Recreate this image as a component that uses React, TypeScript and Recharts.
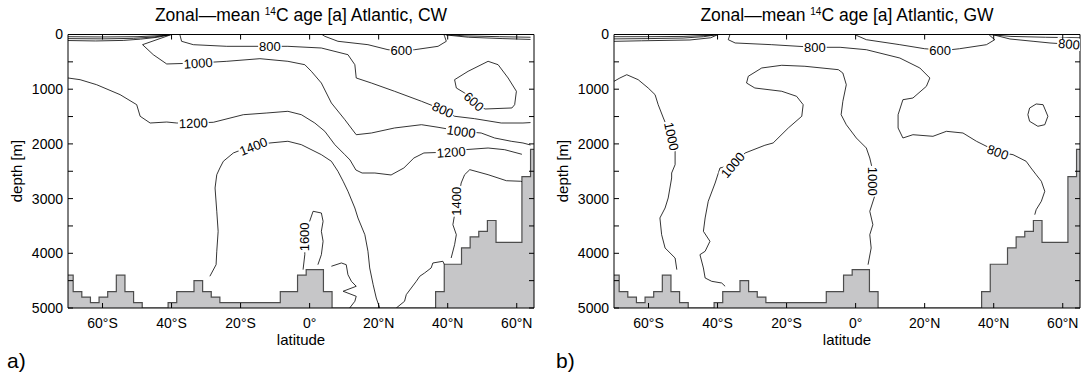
import { ComposedChart, Area, Scatter, XAxis, YAxis, ReferenceArea } from "recharts"

type Pt = [number, number] // [latitude deg, depth m]

const latTicks = [-60, -40, -20, 0, 20, 40, 60]
const depthTicks = [0, 500, 1000, 1500, 2000, 2500, 3000, 3500, 4000, 4500, 5000]

// ocean floor on the model grid, each depth holds until the next latitude
const bottomSteps: Pt[] = [
  [-70, 4400], [-68.5, 4700], [-66, 4800], [-63.5, 4900], [-61, 4800], [-58.5, 4700],
  [-56, 4400], [-53.5, 4700], [-51, 4900], [-48.5, 5000], [-41, 4900], [-38.5, 4700],
  [-33.5, 4500], [-31, 4700], [-28.5, 4800], [-26, 4900], [-8.5, 4700], [-3.5, 4400],
  [-1, 4300], [4, 4700], [6.5, 5000], [36.5, 4700], [39, 4200], [44, 3900], [46.5, 3700],
  [49, 3600], [51.5, 3400], [54, 3800], [61.5, 2600], [64, 2100], [65, 2100],
]

// ---- CW ----
const cwSurfS1: Pt[] = [[-70, 40], [-60, 45], [-50, 40], [-43, 20], [-40, 0]]
const cwSurfS2: Pt[] = [[-70, 75], [-60, 80], [-51, 70], [-45, 45], [-40.5, 5]]
const cwSurfS3: Pt[] = [[-70, 110], [-62, 118], [-54, 108], [-49, 85], [-44, 50], [-41, 10]]
const cwSurfN1: Pt[] = [[39, 0], [45, 25], [55, 40], [64, 50]]
const cwSurfN2: Pt[] = [[39.5, 8], [46, 50], [56, 75], [64, 90]]

const cw600: Pt[] = [
  [3.6, 0], [4.4, 33], [8.2, 124], [16.9, 186], [22.7, 278], [26.6, 296], [30.4, 278],
  [37.2, 216], [39.6, 124], [39.1, 33], [38.9, 0],
]
const cw600North: Pt[] = [
  [42, 826], [45.9, 673], [51.7, 490], [54.6, 552], [57.5, 795], [59.9, 1038], [59.4, 1283],
  [58.6, 1343], [50.8, 1362], [47.6, 1225], [44.9, 1069], [42.5, 978], [42, 826],
]
const cw800: Pt[] = [
  [-37.6, 0], [-37.1, 124], [-33.7, 186], [-24, 216], [-11.5, 216], [-6.3, 216], [3.4, 247],
  [11.1, 369], [13.1, 552], [13.5, 795], [17.9, 887], [24.6, 1038], [32.4, 1221], [38.6, 1375],
  [42, 1495], [47.8, 1539], [55.5, 1618], [61.8, 1618], [64, 1610],
]
const cw1000: Pt[] = [
  [-40, 0], [-48.4, 186], [-45.3, 369], [-41.4, 539], [-32.3, 521], [-24, 490], [-14.4, 442],
  [-6.3, 490], [-1.4, 552], [0.5, 673], [3.4, 887], [6.3, 1252], [10.2, 1557], [13.5, 1832],
  [17.9, 1801], [24.6, 1709], [32.4, 1649], [37.2, 1696], [43.9, 1770], [49.7, 1801],
  [53.6, 1892], [58.4, 1952], [61.8, 1983], [64, 2020],
]
const cw1200: Pt[] = [
  [-70, 795], [-66.5, 826], [-61.7, 918], [-54.9, 1100], [-50.1, 1283], [-49.1, 1495],
  [-46.2, 1618], [-41.4, 1600], [-38.5, 1618], [-33.7, 1618], [-27.9, 1605], [-19.2, 1466],
  [-12.4, 1435], [-6.3, 1404], [-2.4, 1466], [1.5, 1618], [4.4, 1770], [7.3, 2014],
  [10.2, 2197], [11.7, 2294], [13.4, 2477], [15.2, 2532], [18.9, 2532], [23.6, 2568],
  [27.3, 2440], [30.2, 2258], [33.1, 2166], [41, 2148], [44.9, 2106], [51.7, 2075],
  [56.5, 2106], [61.5, 2190],
]
const cw1400: Pt[] = [
  [-28.9, 4420], [-27.1, 4208], [-26.9, 3963], [-26.5, 3598], [-26.9, 3232], [-27.4, 2806],
  [-26.9, 2563], [-26, 2440], [-25, 2318], [-22.1, 2166], [-19.7, 2106], [-16.3, 2044],
  [-11.5, 1983], [-6.3, 1952], [-2.4, 2014], [3.4, 2197], [6.3, 2318], [8.2, 2501],
  [9.7, 2683], [11.1, 2866], [13.1, 3172], [14, 3354], [16, 3660], [16.9, 3963], [17.4, 4268],
  [18.4, 4574], [19.3, 4817], [20.3, 5000],
]
const cw1400North: Pt[] = [
  [41, 4086], [42, 3842], [42.5, 3660], [41.5, 3477], [42, 3294], [42.5, 3049], [43.5, 2866],
  [43.9, 2715], [44.9, 2563], [46.4, 2471], [51.7, 2563], [57, 2673], [61.1, 2683], [61.5, 2690],
]
const cw1400Deep: Pt[] = [
  [25.1, 5000], [27.5, 4877], [28, 4756], [30.9, 4512], [31.9, 4420], [33.3, 4360],
  [35.2, 4268], [35.7, 4177], [38.6, 4146], [39, 4200],
]
const cw1600: Pt[] = [
  [-1.9, 4299], [-1.4, 4025], [-1.4, 3700], [0, 3415], [1, 3232], [3.4, 3263], [3.9, 3415],
  [3.4, 3598], [3.9, 3780], [3.4, 4025], [2.4, 4208],
]
const cw1600East: Pt[] = [
  [6.3, 4237], [9.2, 4177], [10.6, 4208], [11.1, 4391], [12.1, 4512], [13.5, 4603],
  [9.7, 4694], [13.5, 4786], [13.1, 4877], [11.6, 5000],
]

const cwLines = [
  cwSurfS1, cwSurfS2, cwSurfS3, cwSurfN1, cwSurfN2, cw600, cw600North, cw800, cw1000,
  cw1200, cw1400, cw1400North, cw1400Deep, cw1600, cw1600East,
]

// inline labels: level, lat, depth, text rotation
const cwLabels = [
  { level: 800, lat: -11.5, depth: 216, angle: 0 },
  { level: 600, lat: 26.6, depth: 296, angle: 0 },
  { level: 1000, lat: -32.3, depth: 521, angle: -4 },
  { level: 1200, lat: -33.7, depth: 1618, angle: -2 },
  { level: 800, lat: 38.6, depth: 1375, angle: 24 },
  { level: 600, lat: 47.6, depth: 1225, angle: 42 },
  { level: 1000, lat: 43.9, depth: 1770, angle: 8 },
  { level: 1200, lat: 41, depth: 2148, angle: -4 },
  { level: 1400, lat: -16.3, depth: 2044, angle: -22 },
  { level: 1600, lat: -1.4, depth: 3700, angle: -90 },
  { level: 1400, lat: 42.5, depth: 3049, angle: -90 },
]

// ---- GW ----
const gwSurfS1: Pt[] = [[-70, 40], [-60, 40], [-50, 35], [-42, 15], [-40, 0]]
const gwSurfS2: Pt[] = [[-70, 80], [-60, 75], [-50, 65], [-44, 40], [-40, 2]]
const gwSurfS3: Pt[] = [[-70, 125], [-62, 115], [-48, 100], [-42, 60], [-40, 5]]
const gwSurfN1: Pt[] = [[38.5, 0], [45, 35], [55, 50], [65, 60]]

const gw600: Pt[] = [
  [-0.2, 0], [0.2, 15], [3.1, 95], [12.8, 186], [20, 260], [24.5, 282], [28, 275],
  [30.1, 260], [37.9, 186], [40.3, 95], [38.8, 15], [38.8, 0],
]
const gw800North: Pt[] = [[40.1, 9], [44.7, 82], [51.4, 124], [56.3, 155], [61, 174], [65, 180]]
const gw800: Pt[] = [
  [-36.4, 0], [-36.9, 95], [-34.9, 155], [-24.3, 186], [-11.8, 234], [-4.5, 234], [3.1, 278],
  [12.8, 430], [18.6, 612], [21.5, 795], [20.5, 947], [16.6, 1161], [13.7, 1192], [12.3, 1466],
  [12.3, 1709], [13.7, 1892], [16.6, 1832], [22.4, 1861], [26.3, 1770], [31.1, 1801],
  [35, 1952], [41.2, 2148], [45.6, 2197], [49.4, 2318], [50.8, 2440], [52.3, 2563],
  [53.8, 2683], [54.8, 2866], [53.8, 3049], [52.3, 3203], [51.9, 3294],
]
const gw1000West: Pt[] = [
  [-70, 856], [-68.3, 795], [-66.3, 735], [-63, 826], [-60.1, 978], [-58.1, 1100],
  [-57.2, 1283], [-55.7, 1526], [-54.7, 1678], [-53.3, 1861], [-52.3, 2135], [-52.3, 2380],
  [-53.3, 2532], [-53.3, 2623], [-54.3, 2989], [-55.2, 3172], [-56.7, 3354], [-56.2, 3660],
  [-55.2, 3903], [-52.3, 4086], [-51.8, 4299],
]
const gw1000: Pt[] = [
  [-37.8, 4603], [-38.8, 4543], [-41.7, 4512], [-43.6, 4451], [-44.1, 4268], [-45.1, 4025],
  [-43.6, 3963], [-42.2, 3780], [-44.1, 3598], [-43.6, 3354], [-42.7, 3049], [-40.7, 2715],
  [-39.3, 2440], [-35.6, 2386], [-32, 2166], [-26.3, 2025], [-23.9, 1983], [-19.5, 1709],
  [-15.6, 1495], [-15.2, 1283], [-17.1, 1130], [-21.4, 1038], [-29.2, 978], [-31.6, 887],
  [-31.1, 764], [-27.2, 612], [-21.4, 563], [-14.7, 581], [-5, 643], [-3.7, 704], [-2.7, 918],
  [-3.7, 1221], [-4.2, 1466], [-2.7, 1649], [0.2, 1892], [3.1, 2075], [4.1, 2258], [5, 2501],
  [5, 2683], [5.5, 2958], [4.1, 3232], [5, 3477], [4.1, 3660], [4.5, 3903], [3.6, 4208],
]
const gw800Cell: Pt[] = [
  [50.4, 1344], [52.3, 1270], [54.3, 1283], [55.7, 1495], [54.8, 1649], [52.8, 1678],
  [50.4, 1587], [49.9, 1466], [50.4, 1344],
]

const gwLines = [
  gwSurfS1, gwSurfS2, gwSurfS3, gwSurfN1, gw600, gw800North, gw800, gw1000West, gw1000, gw800Cell,
]

const gwLabels = [
  { level: 800, lat: -11.8, depth: 234, angle: 0 },
  { level: 600, lat: 24.5, depth: 282, angle: 0 },
  { level: 1000, lat: -53.3, depth: 1861, angle: 78 },
  { level: 1000, lat: -35.6, depth: 2386, angle: -50 },
  { level: 1000, lat: 5, depth: 2683, angle: 90 },
  { level: 800, lat: 41.2, depth: 2148, angle: 20 },
  { level: 800, lat: 61.8, depth: 172, angle: 5 },
]

// plot box inside each chart svg
const PLOT_LEFT = 68
const PLOT_RIGHT = 534
const PLOT_TOP = 34.5
const PLOT_BOTTOM = 308
const FONT = "'Liberation Sans', Arial, Helvetica, sans-serif"

const toRows = (pts: Pt[]) => pts.map(([lat, depth]) => ({ lat, depth }))

function latText(v: number) {
  if (v === 0) return "0°"
  return `${Math.abs(v)}°${v < 0 ? "S" : "N"}`
}

function LatTick(props: any) {
  const { x, payload } = props
  return (
    <g>
      <line x1={x} x2={x} y1={PLOT_BOTTOM} y2={PLOT_BOTTOM - 5} stroke="#000" />
      <line x1={x} x2={x} y1={PLOT_TOP} y2={PLOT_TOP + 5} stroke="#000" />
      <text x={x} y={328} textAnchor="middle" fontSize={14} fill="#000">
        {latText(payload.value)}
      </text>
    </g>
  )
}

function DepthTick(props: any) {
  const { y, payload } = props
  const v = payload.value
  return (
    <g>
      <line x1={PLOT_LEFT} x2={PLOT_LEFT + 5} y1={y} y2={y} stroke="#000" />
      <line x1={PLOT_RIGHT - 5} x2={PLOT_RIGHT} y1={y} y2={y} stroke="#000" />
      {v % 1000 === 0 && (
        <text x={PLOT_LEFT - 5} y={y} dy="0.35em" textAnchor="end" fontSize={14} fill="#000">
          {v}
        </text>
      )}
    </g>
  )
}

const NoDot = () => <g />

function ContourLabel(props: any) {
  const { cx, cy, payload } = props
  const text = String(payload.level)
  const w = text.length * 7.2 + 2
  return (
    <g transform={`translate(${cx},${cy}) rotate(${payload.angle})`}>
      <rect x={-w / 2} y={-6} width={w} height={12} fill="#fff" />
      <text x={0} y={0} dy="0.36em" textAnchor="middle" fontSize={13} fill="#000">
        {text}
      </text>
    </g>
  )
}

function AgePanel({ lines, labels }: { lines: Pt[][]; labels: typeof cwLabels }) {
  return (
    <ComposedChart width={535} height={374} margin={{ top: PLOT_TOP, right: 1, bottom: 36, left: 0 }}>
      <XAxis
        type="number"
        dataKey="lat"
        domain={[-70, 65]}
        ticks={latTicks}
        interval={0}
        allowDataOverflow
        axisLine={false}
        tickLine={false}
        height={30}
        tick={(p: any) => <LatTick {...p} />}
      />
      <YAxis
        type="number"
        dataKey="depth"
        domain={[0, 5000]}
        reversed
        ticks={depthTicks}
        interval={0}
        allowDataOverflow
        axisLine={false}
        tickLine={false}
        width={PLOT_LEFT}
        tick={(p: any) => <DepthTick {...p} />}
      />
      {lines.map((pts, i) => (
        <Scatter
          key={i}
          data={toRows(pts)}
          line={{ stroke: "#000", strokeWidth: 0.8 }}
          shape={NoDot}
          legendType="none"
          isAnimationActive={false}
        />
      ))}
      <Area
        data={toRows(bottomSteps)}
        dataKey="depth"
        type="stepAfter"
        baseValue={5000}
        stroke="#4d4d4d"
        strokeWidth={1.2}
        fill="#c6c6c8"
        fillOpacity={1}
        dot={false}
        activeDot={false}
        isAnimationActive={false}
      />
      <Scatter data={labels} shape={ContourLabel} legendType="none" isAnimationActive={false} />
      <ReferenceArea x1={-70} x2={65} y1={0} y2={5000} fill="none" stroke="#000" strokeWidth={1} />
    </ComposedChart>
  )
}

function Title({ x, run }: { x: number; run: string }) {
  return (
    <text x={x} y={21} textAnchor="middle" fontSize={17.5} fill="#000">
      Zonal—mean <tspan fontSize={10} dy={-6}>14</tspan>
      <tspan dy={6}>C age [a] Atlantic, {run}</tspan>
    </text>
  )
}

export default function App() {
  return (
    <div
      style={{
        position: "absolute",
        left: 0,
        top: 0,
        width: 1081,
        height: 374,
        background: "#fff",
        fontFamily: FONT,
        overflow: "hidden",
      }}
    >
      <div style={{ position: "absolute", left: 0, top: 0 }}>
        <AgePanel lines={cwLines} labels={cwLabels} />
      </div>
      <div style={{ position: "absolute", left: 546, top: 0 }}>
        <AgePanel lines={gwLines} labels={gwLabels} />
      </div>
      <svg width={1081} height={374} style={{ position: "absolute", left: 0, top: 0, pointerEvents: "none" }}>
        <Title x={301} run="CW" />
        <Title x={847} run="GW" />
        <text x={301} y={345} textAnchor="middle" fontSize={15}>latitude</text>
        <text x={847} y={345} textAnchor="middle" fontSize={15}>latitude</text>
        <text transform="translate(22,171) rotate(-90)" textAnchor="middle" fontSize={15}>depth [m]</text>
        <text transform="translate(568,171) rotate(-90)" textAnchor="middle" fontSize={15}>depth [m]</text>
        <text x={7} y={368} fontSize={21}>a)</text>
        <text x={556} y={368} fontSize={21}>b)</text>
      </svg>
    </div>
  )
}
